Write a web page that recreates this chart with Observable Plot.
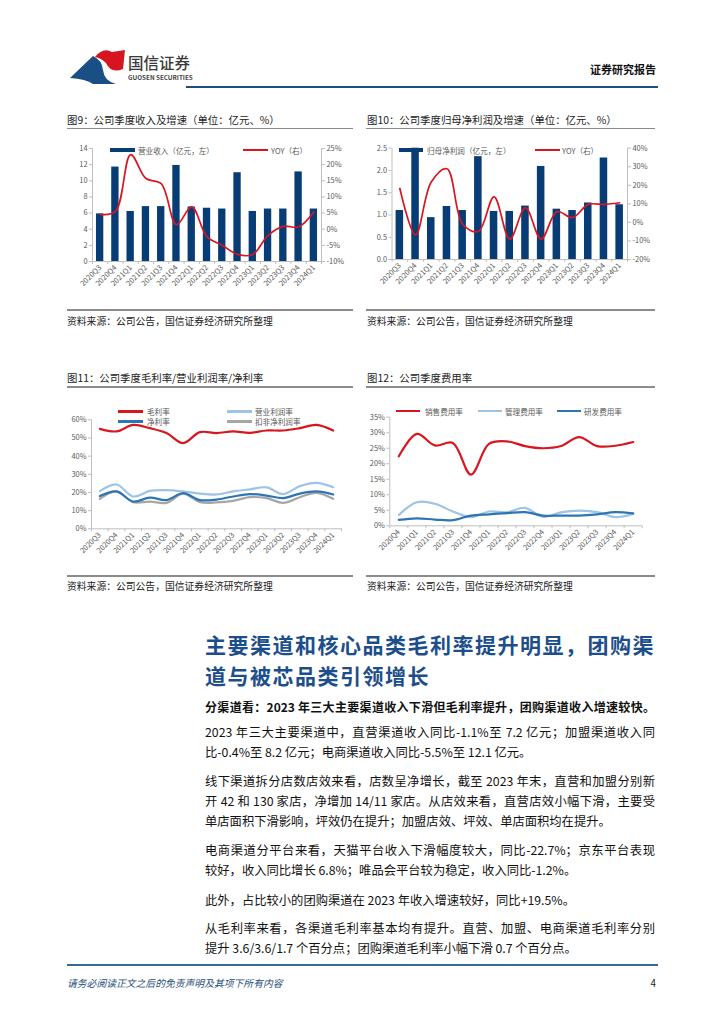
<!DOCTYPE html>
<html lang="zh-CN">
<head>
<meta charset="utf-8">
<script src="https://cdn.jsdelivr.net/npm/d3@7"></script>
<script src="https://cdn.jsdelivr.net/npm/@observablehq/plot@0.6"></script>
<style>
html,body{margin:0;padding:0;background:#fff;}
#page{position:relative;width:724px;height:1024px;overflow:hidden;background:#fff;font-family:"Noto Sans CJK SC","Noto Sans",sans-serif;color:#111;}
.t{position:absolute;white-space:nowrap;}
.rule{position:absolute;}
.chart{position:absolute;}
.chart svg{overflow:visible;display:block;}
.para{position:absolute;left:205px;width:450px;white-space:nowrap;color:#111;}
.just{text-align:justify;text-align-last:justify;}
</style>
</head>
<body><div id="page"></div>
<script>
// ---------------- data ----------------
const quarters = ["2020Q3","2020Q4","2021Q1","2021Q2","2021Q3","2021Q4","2022Q1","2022Q2","2022Q3","2022Q4","2023Q1","2023Q2","2023Q3","2023Q4","2024Q1"];
// 图9
const revenue = [5.9, 11.7, 6.2, 6.8, 6.8, 11.9, 6.75, 6.6, 6.5, 11.0, 6.2, 6.5, 6.5, 11.1, 6.5];
const revenueYoy = [4.6, 5.5, 23.1, 15.7, 14.1, 1.4, 6.9, -2.4, -5.0, -7.8, -7.8, -1.9, 0.9, 0.7, 5.3];
const revTicks = [0, 2, 4, 6, 8, 10, 12, 14];
const revYoyTicks = [-10, -5, 0, 5, 10, 15, 20, 25];
// 图10
const netProfit = [1.10, 2.5, 0.94, 1.19, 1.10, 2.31, 1.08, 1.08, 1.20, 2.09, 1.13, 1.10, 1.27, 2.28, 1.23];
const netProfitYoy = [18.3, -6.7, 21.8, 28.9, -1.0, -4.9, 13.8, -9.0, 7.9, -9.0, 5.8, 2.6, 9.7, 9.7, 10.6];
const profitTicks = [0, 0.5, 1.0, 1.5, 2.0, 2.5];
const profitYoyTicks = [-20, -10, 0, 10, 20, 30, 40];
// 图11
const grossMargin = [55.0, 53.6, 57.2, 55.4, 52.7, 47.2, 53.2, 52.7, 53.6, 52.8, 54.1, 54.1, 55.4, 57.2, 54.1];
const opMargin = [20.7, 24.4, 17.8, 20.9, 21.3, 20.6, 19.4, 18.9, 20.6, 21.7, 22.8, 19.1, 23.5, 25.3, 22.9];
const netMargin = [18.0, 20.6, 15.0, 17.2, 15.8, 19.6, 15.8, 16.1, 17.8, 19.1, 18.3, 16.9, 19.4, 20.6, 18.9];
const deductedMargin = [16.5, 20.6, 14.7, 15.0, 14.3, 19.3, 14.7, 14.5, 15.4, 17.4, 16.9, 14.3, 17.4, 19.8, 16.5];
const marginTicks = [0, 10, 20, 30, 40, 50, 60];
// 图12
const quarters12 = ["2020Q4","2021Q1","2021Q2","2021Q3","2021Q4","2022Q1","2022Q2","2022Q3","2022Q4","2023Q1","2023Q2","2023Q3","2023Q4","2024Q1"];
const salesRate = [22.4, 29.6, 25.9, 26.7, 16.5, 26.4, 27.2, 25.7, 25.0, 25.7, 28.6, 25.7, 25.8, 27.0];
const adminRate = [3.5, 7.6, 7.1, 4.6, 2.8, 4.6, 4.4, 5.8, 2.9, 4.3, 4.9, 4.4, 2.8, 3.8];
const rdRate = [1.9, 2.4, 2.0, 1.8, 3.3, 3.7, 4.1, 4.4, 3.3, 3.3, 3.3, 3.7, 4.4, 4.0];
const expenseTicks = [0, 5, 10, 15, 20, 25, 30, 35];

// text
const titles = ["图9：公司季度收入及增速（单位：亿元、%）","图10：公司季度归母净利润及增速（单位：亿元、%）","图11：公司季度毛利率/营业利润率/净利率","图12：公司季度费用率"];
const sourceText = "资料来源：公司公告，国信证券经济研究所整理";
const headingLines = ["主要渠道和核心品类毛利率提升明显，团购渠","道与被芯品类引领增长"];
const leadLine = "分渠道看：2023 年三大主要渠道收入下滑但毛利率提升，团购渠道收入增速较快。";
const bodyLines = [
  ["2023 年三大主要渠道中，直营渠道收入同比-1.1%至 7.2 亿元；加盟渠道收入同", 732, true],
  ["比-0.4%至 8.2 亿元；电商渠道收入同比-5.5%至 12.1 亿元。", 752, false],
  ["线下渠道拆分店数店效来看，店数呈净增长，截至 2023 年末，直营和加盟分别新", 781, true],
  ["开 42 和 130 家店，净增加 14/11 家店。从店效来看，直营店效小幅下滑，主要受", 801, true],
  ["单店面积下滑影响，坪效仍在提升；加盟店效、坪效、单店面积均在提升。", 821, false],
  ["电商渠道分平台来看，天猫平台收入下滑幅度较大，同比-22.7%；京东平台表现", 850, true],
  ["较好，收入同比增长 6.8%；唯品会平台较为稳定，收入同比-1.2%。", 870, false],
  ["此外，占比较小的团购渠道在 2023 年收入增速较好，同比+19.5%。", 899.5, false],
  ["从毛利率来看，各渠道毛利率基本均有提升。直营、加盟、电商渠道毛利率分别", 928, true],
  ["提升 3.6/3.6/1.7 个百分点；团购渠道毛利率小幅下滑 0.7 个百分点。", 948, false]
];

// ---------------- helpers ----------------
const page = document.getElementById("page");
const axisColor = "#bfbfbf", tickText = "#595959", red = "#d9161f", navy = "#083c75";
const lightBlue = "#9dc3e6", midBlue = "#2e75b6", gray = "#a6a6a6";
const plotStyle = {fontFamily: '"Noto Sans CJK SC","Noto Sans",sans-serif', fontSize: "7.4px", background: "transparent", color: tickText, overflow: "visible"};

function addText(str, o) {
  const d = document.createElement("div");
  d.className = "t";
  d.textContent = str;
  const lh = o.lh || Math.round(o.size * 1.4);
  d.style.fontSize = o.size + "px";
  d.style.lineHeight = lh + "px";
  d.style.height = lh + "px";
  d.style.top = (o.cy - lh / 2) + "px";
  if (o.left != null) d.style.left = o.left + "px";
  if (o.right != null) d.style.right = o.right + "px";
  d.style.color = o.color || "#111";
  if (o.weight) d.style.fontWeight = o.weight;
  if (o.italic) d.style.fontStyle = "italic";
  if (o.spacing) d.style.letterSpacing = o.spacing + "px";
  page.appendChild(d);
  return d;
}
function addRule(x1, x2, y, color, h) {
  const d = document.createElement("div");
  d.className = "rule";
  Object.assign(d.style, {left: x1 + "px", width: (x2 - x1) + "px", top: (y - h / 2) + "px", height: h + "px", background: color});
  page.appendChild(d);
}
function addSwatch(x1, x2, cy, h, color) { addRule(x1, x2, cy, color, h); }
function addChart(svg, left, top) {
  const d = document.createElement("div");
  d.className = "chart";
  d.style.left = left + "px"; d.style.top = top + "px";
  d.appendChild(svg);
  page.appendChild(d);
}

// ---------------- header ----------------
const logo = document.createElementNS("http://www.w3.org/2000/svg", "svg");
logo.setAttribute("width", "60"); logo.setAttribute("height", "40");
logo.setAttribute("viewBox", "68 48 60 40");
logo.style.position = "absolute"; logo.style.left = "68px"; logo.style.top = "48px";
logo.innerHTML = '<path d="M95,57 Q103,47 112,52 L125,50 L123,69 Q111,74 106,63 Q101,58 95,57 Z" fill="#d7141f"/>' +
  '<path d="M70,78 L93,56 Q102,60 103,70 Q104,81 116,84 L93,84 Q86,79 70,78 Z" fill="#1a4f86"/>';
page.appendChild(logo);
addText("国信证券", {left: 128, cy: 62, size: 15.5, color: "#3a3a3a", weight: 500});
addText("GUOSEN SECURITIES", {left: 128, cy: 77.5, size: 6.3, color: "#444", weight: 600});
addText("证券研究报告", {right: 68, cy: 69, size: 11, color: "#111", weight: 700});
addRule(186, 658, 87, "#1f4e79", 2.2);

// ---------------- chart frames ----------------
const tSize = 10.4, sSize = 9.8;
addText(titles[0], {left: 67, cy: 119.5, size: tSize, color: "#222"});
addText(titles[1], {left: 367, cy: 119.5, size: tSize, color: "#222"});
addText(titles[2], {left: 67, cy: 377.5, size: tSize, color: "#222"});
addText(titles[3], {left: 367, cy: 377.5, size: tSize, color: "#222"});
addRule(67, 353, 128.5, "#8c8c8c", 1.4);
addRule(366, 655, 128.5, "#8c8c8c", 1.4);
addRule(67, 353, 387, "#8c8c8c", 1.4);
addRule(366, 655, 387, "#8c8c8c", 1.4);
addRule(67, 353, 310, "#8c8c8c", 1.4);
addRule(366, 655, 310, "#8c8c8c", 1.4);
addRule(67, 353, 576, "#8c8c8c", 1.4);
addRule(366, 655, 576, "#8c8c8c", 1.4);
addText(sourceText, {left: 67, cy: 320.5, size: sSize, color: "#222"});
addText(sourceText, {left: 367, cy: 320.5, size: sSize, color: "#222"});
addText(sourceText, {left: 67, cy: 586, size: sSize, color: "#222"});
addText(sourceText, {left: 367, cy: 586, size: sSize, color: "#222"});

// ---------------- dual-axis bar+line chart builder ----------------
function barLineChart({cats, bars, yoy, leftDomain, leftTicks, leftFormat, rightDomain, rightTicks, width, height, ml, mr, mt, mb}) {
  const n = cats.length;
  const step = (width - ml - mr) / n;
  const map = d3.scaleLinear().domain(rightDomain).range(leftDomain);
  const rows = cats.map((q, i) => ({q, v: bars[i], yoy: yoy[i]}));
  return Plot.plot({
    width, height, marginLeft: ml, marginRight: mr, marginTop: mt, marginBottom: mb,
    style: plotStyle,
    x: {type: "band", domain: cats, paddingInner: 0.52, paddingOuter: 0.26, round: false, axis: null},
    y: {domain: leftDomain, axis: null, clamp: true},
    marks: [
      Plot.barY(rows, {x: "q", y: "v", fill: navy}),
      Plot.ruleY([leftDomain[0]], {stroke: axisColor}),
      Plot.ruleX([cats[0]], {y1: leftDomain[0], y2: leftDomain[1], dx: -step / 2, stroke: axisColor}),
      Plot.ruleX([cats[n - 1]], {y1: leftDomain[0], y2: leftDomain[1], dx: step / 2, stroke: axisColor}),
      Plot.axisY(leftTicks, {anchor: "left", tickSize: 3, tickPadding: 2, stroke: axisColor, fill: tickText, tickFormat: leftFormat, label: null}),
      Plot.axisY(rightTicks.map(map), {anchor: "right", tickSize: 3, tickPadding: 2, stroke: axisColor, fill: tickText, tickFormat: d => Math.round(map.invert(d)) + "%", label: null}),
      Plot.axisX(cats, {anchor: "bottom", tickSize: 3, fill: "none", stroke: axisColor, dx: step / 2, label: null}),
      Plot.axisX([cats[0]], {anchor: "bottom", tickSize: 3, fill: "none", stroke: axisColor, dx: -step / 2, label: null}),
      Plot.axisX(cats, {anchor: "bottom", tickSize: 0, tickPadding: 5, tickRotate: -45, fill: tickText, label: null}),
      Plot.line(rows, {x: "q", y: d => map(d.yoy), stroke: red, strokeWidth: 1.7, curve: "catmull-rom"})
    ]
  });
}

addChart(barLineChart({cats: quarters, bars: revenue, yoy: revenueYoy, leftDomain: [0, 14], leftTicks: revTicks, leftFormat: d3.format("d"),
  rightDomain: [-10, 25], rightTicks: revYoyTicks, width: 290, height: 175, ml: 30, mr: 31, mt: 13, mb: 49}), 62, 135);
addChart(barLineChart({cats: quarters, bars: netProfit, yoy: netProfitYoy, leftDomain: [0, 2.5], leftTicks: profitTicks, leftFormat: d3.format(".1f"),
  rightDomain: [-20, 40], rightTicks: profitYoyTicks, width: 295, height: 175, ml: 29.5, mr: 30, mt: 12.7, mb: 51}), 362, 135);

// legends 9/10
addSwatch(110, 135, 150, 4.6, navy);
addText("营业收入（亿元，左）", {left: 138, cy: 150, size: 7.6, color: tickText});
addSwatch(243, 268, 150, 1.8, red);
addText("YOY（右）", {left: 271, cy: 150, size: 7.6, color: tickText});
addSwatch(399, 423, 150, 4.6, navy);
addText("归母净利润（亿元，左）", {left: 427, cy: 150, size: 7.6, color: tickText});
addSwatch(535, 560, 150, 1.8, red);
addText("YOY（右）", {left: 562, cy: 150, size: 7.6, color: tickText});

// ---------------- multi-line chart builder ----------------
function multiLineChart({cats, series, domain, ticks, width, height, ml, mr, mt, mb}) {
  const n = cats.length;
  const step = (width - ml - mr) / n;
  return Plot.plot({
    width, height, marginLeft: ml, marginRight: mr, marginTop: mt, marginBottom: mb,
    style: plotStyle,
    x: {type: "point", domain: cats, padding: 0.5, round: false, axis: null},
    y: {domain, axis: null},
    marks: [
      Plot.ruleY([domain[0]], {stroke: axisColor}),
      Plot.ruleX([cats[0]], {y1: domain[0], y2: domain[1], dx: -step / 2, stroke: axisColor}),
      Plot.axisY(ticks, {anchor: "left", tickSize: 3, tickPadding: 2, stroke: axisColor, fill: tickText, tickFormat: d => d + "%", label: null}),
      Plot.axisX(cats, {anchor: "bottom", tickSize: 3, fill: "none", stroke: axisColor, dx: step / 2, label: null}),
      Plot.axisX([cats[0]], {anchor: "bottom", tickSize: 3, fill: "none", stroke: axisColor, dx: -step / 2, label: null}),
      Plot.axisX(cats, {anchor: "bottom", tickSize: 0, tickPadding: 5, tickRotate: -45, fill: tickText, label: null}),
      ...series.map(s => Plot.line(cats.map((q, i) => ({q, v: s.values[i]})), {x: "q", y: "v", stroke: s.color, strokeWidth: 2.2, curve: "catmull-rom"}))
    ]
  });
}

addChart(multiLineChart({cats: quarters, domain: [0, 60], ticks: marginTicks,
  series: [
    {values: deductedMargin, color: gray},
    {values: opMargin, color: lightBlue},
    {values: netMargin, color: midBlue},
    {values: grossMargin, color: red}
  ], width: 290, height: 190, ml: 29, mr: 11, mt: 24.3, mb: 56.7}), 62, 395);
addChart(multiLineChart({cats: quarters12, domain: [0, 35], ticks: expenseTicks,
  series: [
    {values: adminRate, color: lightBlue},
    {values: rdRate, color: midBlue},
    {values: salesRate, color: red}
  ], width: 295, height: 190, ml: 27.3, mr: 15.3, mt: 21.7, mb: 59.7}), 362, 395);

// legends 11/12
addSwatch(118, 143, 411.5, 2.2, red);
addText("毛利率", {left: 147, cy: 411.5, size: 7.6, color: tickText});
addSwatch(227, 252, 411.5, 2.2, lightBlue);
addText("营业利润率", {left: 255, cy: 411.5, size: 7.6, color: tickText});
addSwatch(118, 143, 421.5, 2.2, midBlue);
addText("净利率", {left: 147, cy: 421.5, size: 7.6, color: tickText});
addSwatch(227, 252, 421.5, 2.2, gray);
addText("扣非净利润率", {left: 255, cy: 421.5, size: 7.6, color: tickText});
addSwatch(396, 420, 411, 2.2, red);
addText("销售费用率", {left: 425, cy: 411, size: 7.6, color: tickText});
addSwatch(478, 502, 411, 2.2, lightBlue);
addText("管理费用率", {left: 505, cy: 411, size: 7.6, color: tickText});
addSwatch(557, 581, 411, 2.2, midBlue);
addText("研发费用率", {left: 584, cy: 411, size: 7.6, color: tickText});

// ---------------- article text ----------------
function addPara(str, cy, justify, o) {
  const d = document.createElement("div");
  d.className = "para" + (justify ? " just" : "");
  d.textContent = str;
  const lh = o.lh;
  Object.assign(d.style, {fontSize: o.size + "px", lineHeight: lh + "px", height: lh + "px", top: (cy - lh / 2) + "px", color: o.color || "#111", fontWeight: o.weight || 400});
  if (o.spacing) d.style.letterSpacing = o.spacing + "px";
  page.appendChild(d);
  let s = o.size;
  while (d.scrollWidth > 451 && s > 8) { s -= 0.2; d.style.fontSize = s + "px"; }
  return d;
}
// heading
addPara(headingLines[0], 644, false, {size: 21, lh: 26, color: "#1c4e8b", weight: 700, spacing: 1.5});
addPara(headingLines[1], 675, false, {size: 21, lh: 26, color: "#1c4e8b", weight: 700, spacing: 1.5});

addPara(leadLine, 706.5, true, {size: 12, lh: 18, color: "#111", weight: 700});
bodyLines.forEach(([s, cy, j]) => addPara(s, cy, j, {size: 12.3, lh: 18}));

// ---------------- footer ----------------
addRule(67, 658, 965, "#3a6794", 1.2);
addText("请务必阅读正文之后的免责声明及其项下所有内容", {left: 67, cy: 983, size: 9.8, color: "#1f4e79", italic: true});
addText("4", {right: 68, cy: 983, size: 9.8, color: "#222"});
</script>
</body>
</html>
